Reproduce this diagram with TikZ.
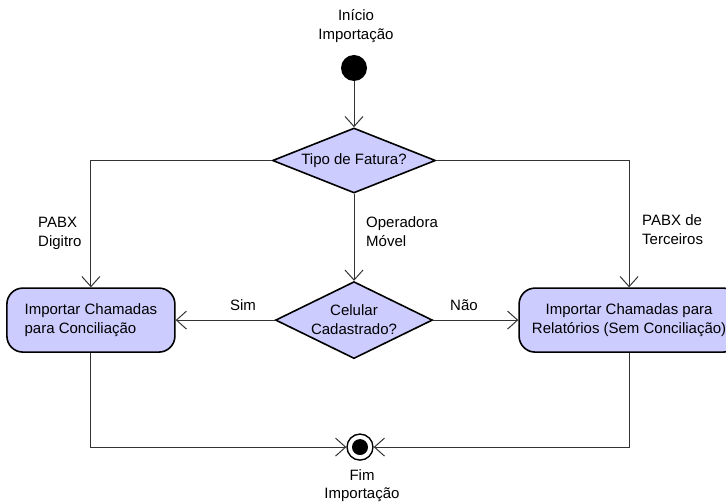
\documentclass[tikz,border=0pt]{standalone}
\usepackage{fontspec}
\setmainfont{Liberation Sans}
\usetikzlibrary{positioning,arrows.meta,shapes.geometric}
\definecolor{actfill}{HTML}{CCCCFF}
\definecolor{lnc}{HTML}{333333}
\tikzset{
  act/.style={rectangle, rounded corners=16pt, draw=black, fill=actfill, line width=1.6pt,
              minimum height=64pt, align=center},
  dec/.style={diamond, draw=black, fill=actfill, line width=1.6pt, inner sep=0pt, align=center},
  startdot/.style={circle, fill=black, minimum size=26pt, inner sep=0pt},
  enddot/.style={circle, draw=black, fill=white, line width=1.4pt, minimum size=26pt, inner sep=0pt},
  lbl/.style={inner sep=0pt, align=left},
  flow/.style={-{Straight Barb[length=10pt,width=18pt]}, draw=lnc, line width=1pt}
}

\begin{document}
\begin{tikzpicture}[x=1pt, y=-1pt, font=\fontsize{15}{19}\selectfont]
\useasboundingbox (0,0) rectangle (726,502);
\node[startdot] (ini) at (354,68) {};
\node[lbl, align=center, above=12pt of ini, xshift=2pt] (inilbl) {Início\\Importação};
\node[dec, shape aspect=2.5, minimum width=163pt, minimum height=65pt, below=46pt of ini] (tipo) {Tipo de Fatura?};
\node[dec, shape aspect=2.04, minimum width=157pt, minimum height=77pt, below=87pt of tipo] (cel) {Celular\\Cadastrado?};
\node[act, align=left, minimum width=168pt, left=99pt of cel] (conc) {Importar Chamadas\\para Conciliação};
\node[act, minimum width=220pt, right=85pt of cel] (rel) {Importar Chamadas para\\Relatórios (Sem Conciliação)};
\node[enddot, below=74pt of cel, xshift=6pt] (fim) {};
\node[circle, fill=black, minimum size=16pt, inner sep=0pt] (fimdot) at (fim) {};
\node[lbl, align=center, below=9pt of fim, xshift=2pt, font=\fontsize{15}{18}\selectfont] (fimlbl) {Fim\\Importação};
% ramos
\node[lbl, anchor=west] (dig) at (38,233) {PABX\\Digitro};
\node[lbl, anchor=west] (movel) at (366,232) {Operadora\\Móvel};
\node[lbl, anchor=west] (terc) at (642,230) {PABX de\\Terceiros};
\node[lbl] (sim) at (243,305) {Sim};
\node[lbl] (nao) at (464,305) {Não};
\draw[flow] (ini) -- (tipo);
\draw[flow] (tipo) -- (cel);
\draw[flow] (tipo.west) -| (conc.north);
\draw[flow] (tipo.east) -| (rel.north);
\draw[flow] (cel.west) -- (conc.east);
\draw[flow] (cel.east) -- (rel.west);
\draw[flow] (conc.south) |- (fim.west);
\draw[flow] (rel.south) |- (fim.east);
\end{tikzpicture}
\end{document}
